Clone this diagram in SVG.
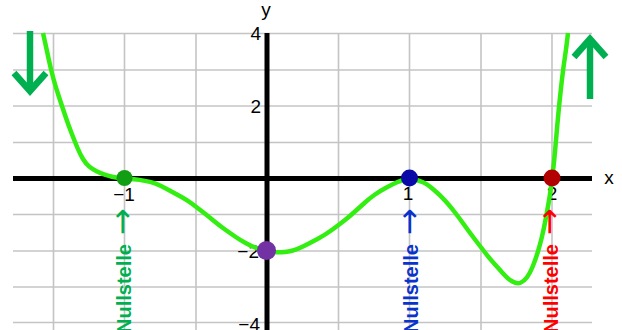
<svg xmlns="http://www.w3.org/2000/svg" width="622" height="330" viewBox="0 0 622 330">
<style>
.grid line{stroke:#c4c4c4;stroke-width:1.6}
.axis{stroke:#000;stroke-width:5}
.lbl{font-family:"Liberation Sans",Arial,sans-serif;font-size:19px;fill:#000}
.ns{font-family:"Liberation Sans",Arial,sans-serif;font-size:20px;font-weight:bold}
.arr{font-family:"DejaVu Sans",sans-serif;font-weight:normal;font-size:32px}
.trend{stroke:#00b050;stroke-width:6.5;fill:none}
</style>
<rect width="622" height="330" fill="#fff"/>
<g id="grid" class="grid">
<line x1="13" y1="33.5" x2="592" y2="33.5"/>
<line x1="13" y1="70" x2="592" y2="70"/>
<line x1="13" y1="106" x2="592" y2="106"/>
<line x1="13" y1="142.5" x2="592" y2="142.5"/>
<line x1="13" y1="214.5" x2="592" y2="214.5"/>
<line x1="13" y1="251" x2="592" y2="251"/>
<line x1="13" y1="287" x2="592" y2="287"/>
<line x1="13" y1="322.5" x2="592" y2="322.5"/>
<line x1="53.5" y1="33" x2="53.5" y2="330"/>
<line x1="124.5" y1="33" x2="124.5" y2="330"/>
<line x1="196" y1="33" x2="196" y2="330"/>
<line x1="338.5" y1="33" x2="338.5" y2="330"/>
<line x1="409.5" y1="33" x2="409.5" y2="330"/>
<line x1="481" y1="33" x2="481" y2="330"/>
<line x1="552" y1="33" x2="552" y2="330"/>
</g>
<g id="axes">
<line class="axis" x1="13" y1="178.5" x2="592" y2="178.5"/>
<line class="axis" x1="267" y1="33" x2="267" y2="330"/>
<text class="lbl" x="266" y="16" text-anchor="middle" font-size="20">y</text>
<text class="lbl" x="609" y="184" text-anchor="middle" font-size="20">x</text>
<text class="lbl" x="261" y="40" text-anchor="end">4</text>
<text class="lbl" x="261" y="113" text-anchor="end">2</text>
<text class="lbl" x="259" y="258" text-anchor="end">−2</text>
<text class="lbl" x="260" y="331" text-anchor="end">−4</text>
<text class="lbl" x="124" y="201" text-anchor="middle">−1</text>
<text class="lbl" x="408" y="200" text-anchor="middle">1</text>
<text class="lbl" x="552" y="200" text-anchor="middle">2</text>
</g>
<g id="curve">
<path fill="none" stroke="#33ee11" stroke-width="4.5" stroke-linejoin="round" d="M43,33 L45,42 Q47,51 49,60.5 Q51,70 53.5,79 Q56,88 59,97 Q62,106 65,115 Q68,124 71.5,133 Q75,142 77.5,148 Q80,154 83,159 Q86,164 89.5,166.75 Q93,169.5 96.5,171.25 Q100,173 104,174.4 Q108,175.8 112,176.75 Q116,177.7 120,178.1 Q124,178.5 129,178.75 Q134,179 139.5,179.9 Q145,180.8 150,181.9 Q155,183 160,185.5 Q165,188 170.5,191 Q176,194 181.5,197 Q187,200 192,203.75 Q197,207.5 202.5,211.75 Q208,216 214,221 Q220,226 225,229.5 Q230,233 235,236.5 Q240,240 246.5,243.5 Q253,247 259.5,249 Q266,251 271.5,251.75 Q277,252.5 282,252.25 Q287,252 292,250.75 Q297,249.5 303.5,246.25 Q310,243 317.5,239 Q325,235 332.5,229.5 Q340,224 345,220 Q350,216 355,211.5 Q360,207 365,202.5 Q370,198 375,194.5 Q380,191 386.5,187.5 Q393,184 397,182.25 Q401,180.5 405.5,179.5 Q410,178.5 414.5,179.5 Q419,180.5 423,182.25 Q427,184 433.5,189.5 Q440,195 445,200.5 Q450,206 455,212.5 Q460,219 465,226 Q470,233 475,239.5 Q480,246 485,252.5 Q490,259 495,264.5 Q500,270 504,274.5 Q508,279 512.5,281.5 Q517,284 520.5,282.75 Q524,281.5 527,277.25 Q530,273 532.5,267 Q535,261 537.5,253 Q540,245 542,236.5 Q544,228 545.5,220 Q547,212 548.5,203.5 Q550,195 551,186.75 Q552,178.5 553,170.75 Q554,163 555,151.5 Q556,140 557.5,123 Q559,106 561,88 Q563,70 564.5,60 Q566,50 567,41.5 L568,33"/>
</g>
<g id="trend-left">
<line class="trend" x1="30" y1="31" x2="30" y2="90"/>
<polyline class="trend" points="14,73 30,91 46,73"/>
</g>
<g id="trend-right">
<line class="trend" x1="590" y1="99" x2="590" y2="40"/>
<polyline class="trend" points="574,57 590,39 606,57"/>
</g>
<g id="root-m1">
<circle cx="124.5" cy="178" r="8" fill="#129e12"/>
<text class="ns" fill="#00b050" transform="translate(131,333) rotate(-90)">Nullstelle <tspan class="arr" x="98" dy="2">→</tspan></text>
</g>
<g id="y-intercept">
<circle cx="266.5" cy="250.5" r="9.5" fill="#7232a3"/>
</g>
<g id="root-1">
<circle cx="409.5" cy="178" r="8.5" fill="#0a0aa6"/>
<text class="ns" fill="#0a33cc" transform="translate(418,333) rotate(-90)">Nullstelle <tspan class="arr" x="98" dy="2">→</tspan></text>
</g>
<g id="root-2">
<circle cx="552" cy="178" r="8.5" fill="#b30000"/>
<text class="ns" fill="#ff0000" transform="translate(558,333) rotate(-90)">Nullstelle <tspan class="arr" x="98" dy="2">→</tspan></text>
</g>
<g id="connectors"></g>
</svg>
